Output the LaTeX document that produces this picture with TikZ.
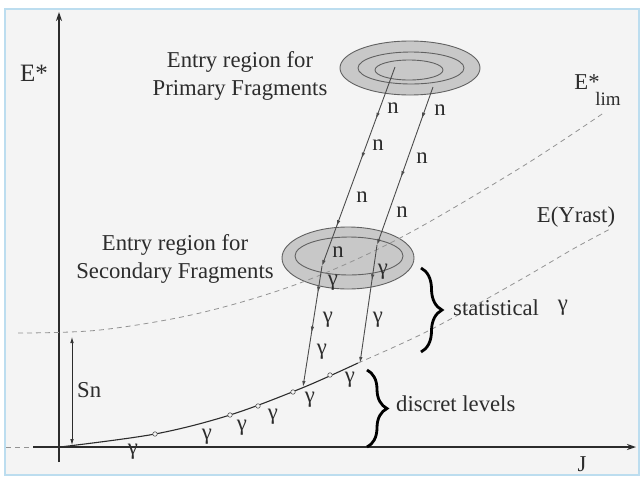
\documentclass[tikz,border=0pt]{standalone}
\usepackage{fontspec}
\setmainfont{Liberation Serif}
\usetikzlibrary{shapes.geometric,decorations.pathreplacing,decorations.markings,arrows.meta}
\definecolor{frameblue}{HTML}{BCDDEF}
\definecolor{bggray}{HTML}{F4F4F4}
\definecolor{ringgray}{HTML}{C8C8C8}
\definecolor{ink}{HTML}{2C2C2C}
\begin{document}
\begin{tikzpicture}[x=1pt,y=-1pt,
  lbl/.style={font=\fontsize{22.7}{28}\selectfont, text=ink, inner sep=0pt},
  ring/.style={ellipse, draw=ink!75, line width=0.9pt, inner sep=0pt},
  guide/.style={dash pattern=on 5pt off 4pt, draw=gray!85, line width=0.8pt},
  axis/.style={line width=1.5pt, draw=ink, -{Stealth[length=9pt,width=6pt]}},
  cascade/.style={line width=0.9pt, draw=ink!85, -{Latex[length=6pt,width=3.5pt]}},
  tip/.style={postaction={decorate}},
  bracestyle/.style={decorate, line width=2.8pt, draw=black},
  level/.style={circle, draw=ink!80, fill=bggray, line width=0.6pt, minimum size=4.5pt, inner sep=0pt}
]
\path[use as bounding box] (0,0) rectangle (644,477);
\fill[white] (0,0) rectangle (644,477);
\draw[frameblue, line width=2pt, fill=bggray] (5,9) rectangle (639,475);

% entry regions
\node[ring, fill=ringgray, minimum width=140pt, minimum height=54pt] (po) at (410,68) {};
\node[ring, minimum width=106pt, minimum height=32pt] (pm) at (411,68) {};
\node[ring, minimum width=68pt, minimum height=20pt] (pi) at (409,70) {};
\node[ring, fill=ringgray, minimum width=132pt, minimum height=62pt] (so) at (348,258) {};
\node[ring, minimum width=108pt, minimum height=38pt] (si) at (349,256) {};

% axes
\coordinate (yb) at (59,462);
\coordinate (yt) at (59,12);
\draw[axis] (yb) -- (yt);
\coordinate (xl) at (6,447);
\coordinate (xs) at (33,447);
\coordinate (xr) at (636,447);
\draw[guide] (xl) -- (xs);
\draw[axis] (xs) -- (xr);

% E*lim curve
\draw[guide] plot[smooth, tension=0.55] coordinates {(18,333) (100,330) (200,313) (300,283) (400,238) (520,168) (605,112)};
% Yrast curve
\draw[line width=1.1pt, ink] plot[smooth, tension=0.55] coordinates {(60,447) (155,434) (230,415) (302,388) (358,363)};
\draw[guide] plot[smooth, tension=0.55] coordinates {(358,363) (430,330) (520,280) (573,249) (612,228)};
\foreach \p [count=\i] in {(155,434),(230,415),(258,406),(293,392),(330,375)}
  \node[level] (lv\i) at \p {};

% cascades
\coordinate (a1) at (395,67);
\coordinate (a2) at (322,266);
\coordinate (a3) at (303,387);
\coordinate (b1) at (433,87);
\coordinate (b2) at (377,245);
\coordinate (b3) at (360,363);
\draw[cascade, tip, decoration={markings,
   mark=at position 0.26 with {\arrow{Latex[length=6pt,width=3.5pt]}},
   mark=at position 0.46 with {\arrow{Latex[length=6pt,width=3.5pt]}},
   mark=at position 0.80 with {\arrow{Latex[length=6pt,width=3.5pt]}}}] (a1) -- (a2);
\draw[cascade, tip, decoration={markings,
   mark=at position 0.20 with {\arrow{Latex[length=6pt,width=3.5pt]}},
   mark=at position 0.57 with {\arrow{Latex[length=6pt,width=3.5pt]}}}] (b1) -- (b2);
\draw[cascade, tip, decoration={markings,
   mark=at position 0.22 with {\arrow{Latex[length=6pt,width=3.5pt]}},
   mark=at position 0.55 with {\arrow{Latex[length=6pt,width=3.5pt]}}}] (a2) -- (a3);
\draw[cascade, tip, decoration={markings,
   mark=at position 0.30 with {\arrow{Latex[length=6pt,width=3.5pt]}}}] (b2) -- (b3);

% Sn
\coordinate (sn1) at (72,337);
\coordinate (sn2) at (72,445);
\draw[line width=0.7pt, ink, {Latex[length=6pt,width=3.5pt]}-{Latex[length=6pt,width=3.5pt]}] (sn1) -- (sn2);
\node[lbl, anchor=west] (sn) at (77,390) {Sn};

% n labels
\foreach \p [count=\i] in {(393,108),(378,145),(362,197),(338,252),(440,110),(422,158),(402,212)}
  \node[lbl] (n\i) at \p {n};
% gamma labels
\foreach \p [count=\i] in {(333,283),(328,320),(322,352),(383,272),(378,320),(350,380),(310,400),(273,417),(242,428),(207,437),(133,452)}
  \node[lbl] (g\i) at \p {γ};

% braces
\coordinate (s1) at (421,268);
\coordinate (s2) at (421,352);
\draw[bracestyle, decoration={brace, amplitude=21pt, aspect=0.5}] (s1) -- (s2);
\coordinate (d1) at (367,370);
\coordinate (d2) at (367,447);
\draw[bracestyle, decoration={brace, amplitude=20pt, aspect=0.5}] (d1) -- (d2);

% texts
\node[lbl, align=center] (prim) at (240,76) {Entry region for\\Primary Fragments};
\node[lbl, align=center] (sec) at (175,259) {Entry region for\\Secondary Fragments};
\node[lbl, anchor=west] (stat) at (453,308) {statistical};
\node[lbl] (statg) at (563,308) {γ};
\node[lbl, anchor=west] (disc) at (396,404) {discret levels};
\node[lbl, font=\fontsize{25}{28}\selectfont] (estar) at (34,73) {E*};
\node[lbl] (elim) at (587,82) {E*};
\node[lbl, font=\fontsize{19}{22}\selectfont] (lim) at (608,99) {lim};
\node[lbl] (yrast) at (576,217) {E(Yrast)};
\node[lbl] (jlab) at (582,464) {J};
\end{tikzpicture}
\end{document}
